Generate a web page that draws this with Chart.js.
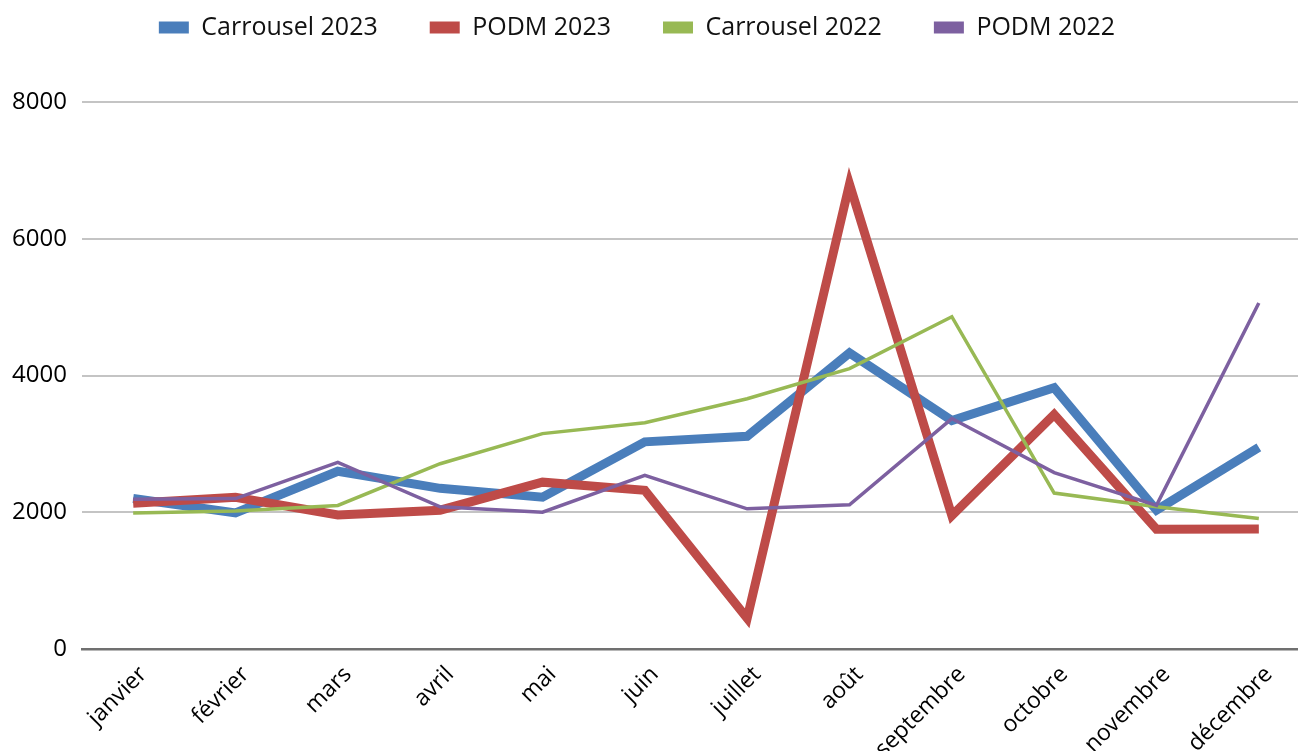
<!DOCTYPE html>
<html>
<head>
<meta charset="utf-8">
<script src="https://cdn.jsdelivr.net/npm/chart.js@4.4.0/dist/chart.umd.min.js"></script>
<style>
  html, body { margin: 0; padding: 0; background: #fff; overflow: hidden; }
  #wrap { width: 1310px; height: 751px; }
</style>
</head>
<body>
<div id="wrap"><canvas id="myChart" width="1310" height="751"></canvas></div>
<script>
// data
var months = ['janvier', 'février', 'mars', 'avril', 'mai', 'juin', 'juillet', 'août', 'septembre', 'octobre', 'novembre', 'décembre'];
var carrousel2023 = [2200, 1990, 2600, 2350, 2220, 3030, 3110, 4330, 3340, 3820, 2030, 2950];
var podm2023 = [2130, 2220, 1960, 2030, 2440, 2320, 450, 6800, 1950, 3430, 1750, 1755];
var carrousel2022 = [1990, 2020, 2100, 2710, 3150, 3310, 3660, 4100, 4860, 2280, 2080, 1910];
var podm2022 = [2190, 2200, 2730, 2080, 2000, 2540, 2050, 2110, 3370, 2580, 2100, 5060];
var yTicks = [0, 2000, 4000, 6000, 8000];

// legend sits higher and a bit left, with more room under it
var legendSpace = {
    id: 'legendSpace',
    beforeLayout: function (chart) {
        var legend = chart.legend;
        if (!legend || legend._patched) return;
        var fit = legend.fit;
        legend.fit = function () { fit.call(this); this.height += 15; };
        legend._patched = true;
    },
    afterLayout: function (chart) {
        var l = chart.legend;
        l.left -= 18; l.right -= 18;
        l.top -= 37; l.bottom -= 37;
    }
};

function serie(label, data, color, width, order) {
    return {
        label: label,
        data: data,
        borderColor: color,
        backgroundColor: color,
        borderWidth: width,
        pointRadius: 0,
        pointHoverRadius: 0,
        tension: 0,
        borderJoinStyle: 'miter',
        borderCapStyle: 'butt',
        fill: false,
        order: order
    };
}

var defaultLabels = Chart.defaults.plugins.legend.labels.generateLabels;

var ctx = document.getElementById('myChart').getContext('2d');
var chart = new Chart(ctx, {
    type: 'line',
    data: {
        labels: months,
        datasets: [
            serie('Carrousel 2023', carrousel2023, '#4a7ebb', 9, 3),
            serie('PODM 2023', podm2023, '#be4b48', 9, 2),
            serie('Carrousel 2022', carrousel2022, '#98b954', 3.5, 1),
            serie('PODM 2022', podm2022, '#7d60a0', 3.5, 0)
        ]
    },
    options: {
        responsive: false,
        animation: false,
        layout: { padding: 0 },
        plugins: {
            tooltip: { enabled: false },
            legend: {
                position: 'top',
                labels: {
                    boxWidth: 30,
                    boxHeight: 12,
                    padding: 52,
                    color: '#111',
                    font: { family: 'Open Sans', size: 25 },
                    generateLabels: function (c) {
                        return defaultLabels(c).map(function (it) {
                            it.lineWidth = 0;
                            it.strokeStyle = 'rgba(0,0,0,0)';
                            return it;
                        });
                    },
                    sort: function (a, b) { return a.datasetIndex - b.datasetIndex; }
                }
            }
        },
        scales: {
            x: {
                offset: true,
                grid: { display: false, drawTicks: false },
                border: { display: true, color: '#707070', width: 2.5 },
                ticks: {
                    autoSkip: false,
                    minRotation: 45,
                    maxRotation: 45,
                    padding: 12,
                    labelOffset: 10,
                    color: '#000',
                    font: { family: 'Open Sans', size: 23 }
                },
                afterFit: function (s) { s.height = 102; }
            },
            y: {
                min: 0,
                max: 8000,
                afterBuildTicks: function (s) { s.ticks = yTicks.map(function (v) { return { value: v }; }); },
                grid: { color: '#c4c4c4', lineWidth: 2, drawTicks: false },
                border: { display: false },
                ticks: {
                    padding: 15,
                    color: '#000',
                    font: { family: 'Open Sans', size: 24 },
                    callback: function (v) { return String(v); }
                },
                afterFit: function (s) { s.width = 82; }
            }
        }
    },
    plugins: [legendSpace]
});
</script>
</body>
</html>
